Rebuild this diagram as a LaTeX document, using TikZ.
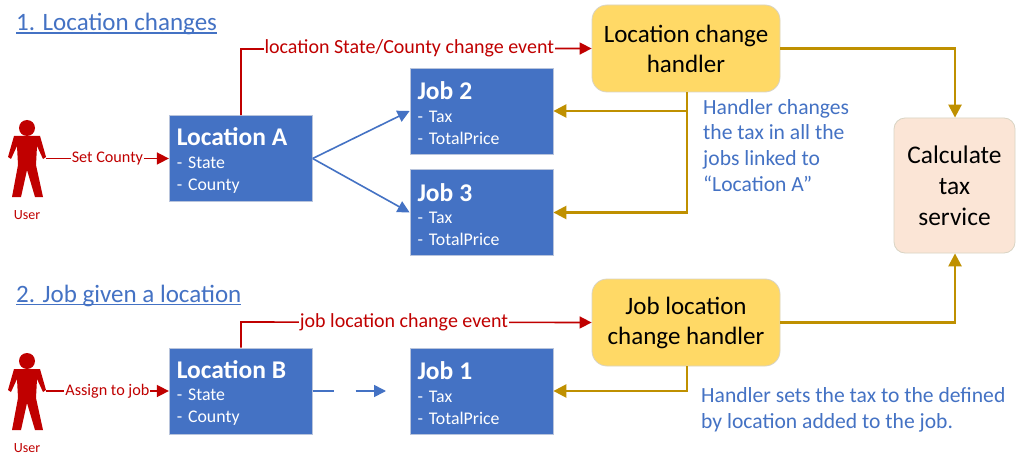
\documentclass[tikz,border=0pt]{standalone}
\usepackage{fontspec}
\setmainfont{Carlito}
\usetikzlibrary{arrows.meta}
\definecolor{cred}{HTML}{C00000}
\definecolor{cgold}{HTML}{BF9000}
\definecolor{cblue}{HTML}{4472C4}
\definecolor{chandler}{HTML}{FFD966}
\definecolor{cservice}{HTML}{FBE5D6}
\definecolor{cedge}{HTML}{B8C4DC}
\definecolor{cedgeb}{HTML}{D9D4C4}
\newcommand{\fs}[1]{\fontsize{#1}{#1}\selectfont}
\newcommand{\ulinetext}[1]{\setbox0\hbox{#1}\rlap{\rule[-2.6pt]{\wd0}{1.1pt}}\box0}
\tikzset{
  x=1pt,y=-1pt,
  bluebox/.style={draw=cedge,line width=0.8pt,fill=cblue,text=white,minimum width=143pt,minimum height=86pt,inner sep=0pt,text width=128pt,align=left,font=\fs{17.8}},
  handlerbox/.style={draw=cedgeb,line width=0.8pt,fill=chandler,rounded corners=15pt,minimum width=188pt,minimum height=87pt,align=center,inner sep=0pt,font=\fs{25}},
  servicebox/.style={draw=cedgeb,line width=0.8pt,fill=cservice,rounded corners=11pt,minimum width=121pt,minimum height=135pt,align=center,inner sep=0pt,font=\fs{25.4}},
  redarrow/.style={draw=cred,line width=1.6pt,-{Triangle[length=12pt,width=12pt]}},
  goldarrow/.style={draw=cgold,line width=2.5pt,-{Triangle[length=13pt,width=13pt]}},
  bluearrow/.style={draw=cblue,line width=1.6pt,-{Triangle[length=12pt,width=12pt]}},
  redlabel/.style={text=cred,fill=white,inner sep=1pt,font=\fs{20}},
  smallred/.style={redlabel,font=\fs{16.2}},
  userlabel/.style={text=cred,font=\fs{14},inner sep=0pt},
  title/.style={text=cblue,font=\fs{25},anchor=base west,inner sep=0pt},
  note/.style={text=cblue,font=\fs{21.6},anchor=base west,align=left,inner sep=0pt},
  userfig/.pic={
    \fill[cred] (27,128) circle (8);
    \fill[cred] (14,136) -- (40,136) -- (46,157) -- (43,159) -- (37,146) -- (36,165) -- (43,197) -- (35,197) -- (27,170) -- (21,197) -- (12,197) -- (18,165) -- (17,146) -- (11,159) -- (8,157) -- cycle;
  }
}
\newcommand{\boxtext}[3]{{\bfseries\fs{25.5}\rule{0pt}{22pt}#1}\\[4.5pt]- #2\\[4.2pt]- #3}
\begin{document}
\begin{tikzpicture}
\useasboundingbox (0,0) rectangle (1024,465);
\fill[white] (0,0) rectangle (1024,465);

\node[title] (t1) at (16,31) {\ulinetext{1. Location changes}};
\node[title] (t2) at (16,302) {\ulinetext{2. Job given a location}};

\pic at (0,0) {userfig};
\pic at (0,233) {userfig};
\coordinate (u1) at (46,158.5);
\coordinate (u2) at (46,391);
\node[userlabel] (ul1) at (27,215) {User};
\node[userlabel] (ul2) at (27,448) {User};

\node[bluebox] (locA) at (240.75,158.5) {\boxtext{Location A}{State}{County}};
\node[bluebox] (locB) at (240.75,391) {\boxtext{Location B}{State}{County}};
\node[bluebox] (job2) at (481.5,111) {\boxtext{Job 2}{Tax}{TotalPrice}};
\node[bluebox] (job3) at (481.5,212.5) {\boxtext{Job 3}{Tax}{TotalPrice}};
\node[bluebox] (job1) at (481.5,391) {\boxtext{Job 1}{Tax}{TotalPrice}};

\node[handlerbox] (h1) at (686,48.5) {Location change\\[5pt]handler};
\node[handlerbox] (h2) at (686,322.5) {Job location\\[5pt]change handler};
\node[servicebox] (svc) at (954.5,185.5) {Calculate\\[5.6pt]tax\\[5.6pt]service};

% red
\draw[redarrow] (u1) -- node[smallred,pos=0.5] (lsc) {Set County} (locA.west);
\draw[redarrow] (u2) -- node[smallred,pos=0.5] (laj) {Assign to job} (locB.west);
\coordinate (a1) at (241,49);
\coordinate (a2) at (241,322);
\draw[redarrow] (locA.north -| a1) -- (a1) -- node[redlabel,pos=0.48] (le1) {location State/County change event} (h1.west);
\draw[redarrow] (locB.north -| a2) -- (a2) -- node[redlabel,pos=0.465] (le2) {job location change event} (h2.west);

% blue
\draw[bluearrow] (locA.east) -- (job2.west);
\draw[bluearrow] (locA.east) -- (job3.west);
\coordinate (dashend) at (386,391);
\draw[bluearrow,dash pattern=on 21pt off 22pt] (locB.east) -- (dashend);

% gold
\coordinate (g1) at (955,48.5);
\coordinate (g2) at (955,322.5);
\draw[goldarrow] (h1.east) -- (g1) -- (svc.north -| g1);
\draw[goldarrow] (h2.east) -- (g2) -- (svc.south -| g2);
\coordinate (g3) at (687,111);
\coordinate (g4) at (687,212.5);
\coordinate (g5) at (687,391);
\draw[goldarrow] (h1.south -| g3) -- (g4) -- (job3.east);
\draw[goldarrow] (g3) -- (job2.east);
\draw[goldarrow] (h2.south -| g5) -- (g5) -- (job1.east);

\node[note] (n1) at (703,191) {Handler changes\\[4pt]the tax in all the\\[4pt]jobs linked to\\[4pt]“Location A”};
\node[note] (n2) at (701,428) {Handler sets the tax to the defined\\[4.4pt]by location added to the job.};
\end{tikzpicture}
\end{document}
